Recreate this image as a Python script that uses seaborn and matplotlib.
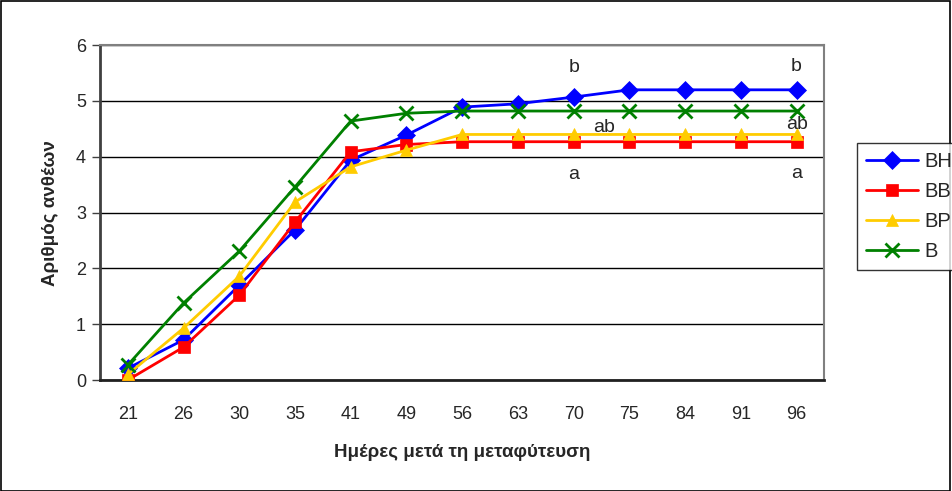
import pandas as pd
import numpy as np
from matplotlib import pyplot as plt
import seaborn as sns

days = ['21', '26', '30', '35', '41', '49', '56', '63', '70', '75', '84', '91', '96']
bh = [0.21, 0.72, 1.70, 2.69, 3.94, 4.39, 4.89, 4.95, 5.07, 5.20, 5.20, 5.20, 5.20]
bb = [0.00, 0.59, 1.52, 2.83, 4.09, 4.22, 4.27, 4.27, 4.27, 4.27, 4.27, 4.27, 4.27]
bp = [0.10, 0.93, 1.86, 3.19, 3.82, 4.12, 4.40, 4.40, 4.40, 4.40, 4.40, 4.40, 4.40]
b = [0.27, 1.38, 2.31, 3.46, 4.64, 4.78, 4.82, 4.82, 4.82, 4.82, 4.82, 4.82, 4.82]

series = ['BH', 'BB', 'BP', 'B']
colors = {'BH': '#0000FF', 'BB': '#FF0000', 'BP': '#FFCC00', 'B': '#008000'}
markers = {'BH': 'D', 'BB': 's', 'BP': '^', 'B': 'x'}

# letters of significance
letters = [('b', '70', 5.6), ('b', '96', 5.62), ('ab', '70', 4.53), ('ab', '96', 4.57),
           ('a', '70', 3.68), ('a', '96', 3.7)]

df = pd.DataFrame({'Day': days * 4,
                   'Value': bh + bb + bp + b,
                   'Series': ['BH'] * 13 + ['BB'] * 13 + ['BP'] * 13 + ['B'] * 13})

sns.set_style('white')
plt.rcParams['font.family'] = ['Liberation Sans', 'DejaVu Sans']

fig = plt.figure(figsize=(9.52, 4.91), dpi=100)
ax = fig.add_axes([0.105, 0.226, 0.761, 0.682])

for s in series:
    d = df[df['Series'] == s]
    sns.lineplot(data=d, x='Day', y='Value', color=colors[s], marker=markers[s],
                 markersize=9 if s != 'B' else 10, markeredgecolor=colors[s],
                 markeredgewidth=2 if s == 'B' else 0.5, linewidth=2, sort=False,
                 label=s, ax=ax, zorder=3)

ax.set_ylim(0, 6)
ax.set_xlim(-0.5, 12.5)
ax.set_yticks(range(0, 7))
ax.yaxis.grid(True, color='black', linewidth=1)
ax.set_axisbelow(True)
ax.set_xticks(range(13))
ax.set_xticklabels(days)
ax.set_xticks(np.arange(-0.5, 13, 1), minor=True)
ax.tick_params(axis='x', which='major', length=0, pad=19, labelsize=13)
ax.tick_params(axis='x', which='minor', length=6, width=1, color='#404040', direction='out')
ax.tick_params(axis='y', length=6, width=1, color='#404040', direction='out', left=True,
               labelsize=13, pad=4)

for side in ['top', 'right']:
    ax.spines[side].set_color('#808080')
    ax.spines[side].set_linewidth(1.5)
ax.spines['left'].set_color('#404040')
ax.spines['left'].set_linewidth(2)
ax.spines['bottom'].set_color('#202020')
ax.spines['bottom'].set_linewidth(2)

ax.set_xlabel('Ημέρες μετά τη μεταφύτευση', fontsize=13.5, fontweight='bold', labelpad=15)
ax.set_ylabel('Αριθμός ανθέων', fontsize=13.5, fontweight='bold', labelpad=12)

for txt, day, y in letters:
    dx = 0.55 if txt == 'ab' and day == '70' else 0.0
    ax.text(days.index(day) + dx, y, txt, ha='center', va='center', fontsize=14)

ax.get_legend().remove()
handles, labels = ax.get_legend_handles_labels()
leg = fig.legend(handles, labels, loc='upper left', bbox_to_anchor=(0.9, 0.709),
                 fontsize=14.5, frameon=True, fancybox=False, handlelength=2.6,
                 borderpad=0.45, labelspacing=0.55, handletextpad=0.3, borderaxespad=0)
leg.get_frame().set_edgecolor('black')
leg.get_frame().set_linewidth(1)

fig.patches.append(plt.Rectangle((0.001, 0.001), 0.997, 0.997, transform=fig.transFigure,
                                 fill=False, edgecolor='black', linewidth=1.2))

fig.savefig('out.png', dpi=100)
